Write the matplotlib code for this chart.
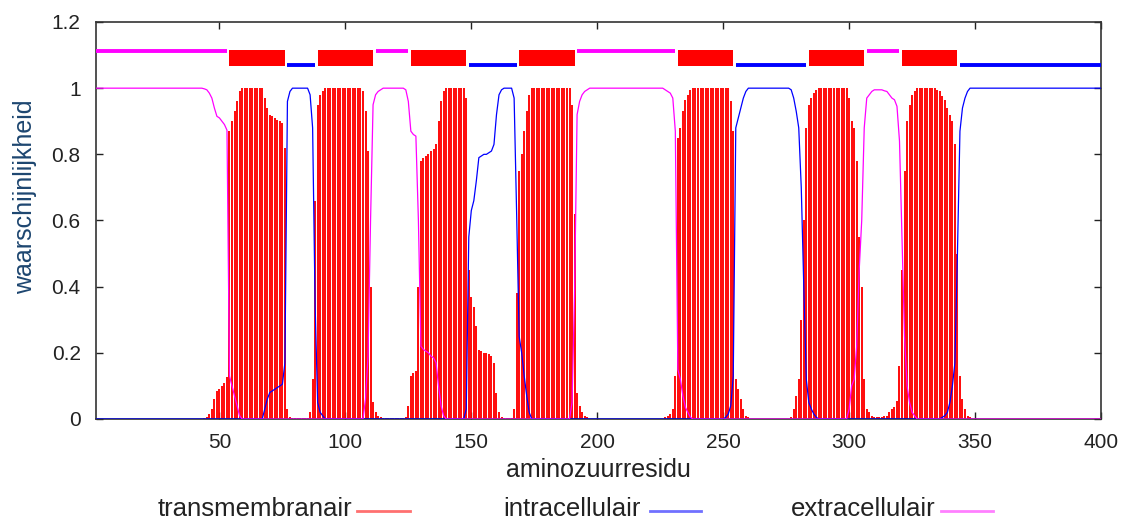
import matplotlib
matplotlib.use("Agg")
import matplotlib.pyplot as plt
from matplotlib.lines import Line2D
import numpy as np

plt.rcParams['font.family'] = ['Liberation Sans', 'DejaVu Sans']

# --- data: posterior probabilities per residue (1..400) ---
residues = np.arange(1, 401)

p_tm = np.array(
    [0.0] * 43 +
    [0.002, 0.005, 0.015, 0.03, 0.06, 0.085, 0.09, 0.10, 0.11, 0.127] +        # 44-53
    [0.87, 0.90, 0.93, 0.96, 0.99] + [1.0] * 9 +                                # 54-67
    [0.97, 0.94, 0.92, 0.915, 0.91, 0.905, 0.90, 0.895, 0.82] +                 # 68-76
    [0.03, 0.005] + [0.003] * 7 + [0.02, 0.12, 0.66, 0.95, 0.98, 0.99] +        # 77-91
    [1.0] * 15 +                                                                # 92-106
    [0.99, 0.93, 0.81, 0.40, 0.05, 0.02, 0.01, 0.005] + [0.002] * 9 +           # 107-123
    [0.005, 0.04, 0.13, 0.14, 0.145, 0.40, 0.78, 0.79, 0.795, 0.80, 0.81,
     0.815, 0.83, 0.90, 0.96, 0.99] +                                           # 124-139
    [1.0] * 8 + [0.97] +                                                        # 140-148
    [0.45, 0.37, 0.34, 0.28, 0.21, 0.205, 0.20, 0.20, 0.195, 0.19, 0.17,
     0.08, 0.02, 0.005] + [0.002] * 4 +                                         # 149-166
    [0.03, 0.38, 0.75, 0.80, 0.87, 0.93, 0.98] + [1.0] * 16 +                   # 167-189
    [0.95, 0.62, 0.08, 0.04, 0.02, 0.01, 0.005] + [0.0] * 30 +                  # 190-226
    [0.005, 0.01, 0.015, 0.03, 0.13, 0.85, 0.88, 0.93, 0.965, 0.98, 0.995] +    # 227-237
    [1.0] * 15 +                                                                # 238-252
    [0.96, 0.87, 0.12, 0.09, 0.06, 0.03, 0.01, 0.005] + [0.0] * 16 +            # 253-276
    [0.005, 0.03, 0.07, 0.12, 0.30, 0.60, 0.88, 0.95, 0.97, 0.985, 0.995] +     # 277-287
    [1.0] * 12 +                                                                # 288-299
    [0.97, 0.90, 0.88, 0.78, 0.55, 0.40, 0.12, 0.03, 0.02, 0.01] + [0.005] * 4 +  # 300-313
    [0.008, 0.01, 0.02, 0.03, 0.035, 0.055, 0.16, 0.45, 0.75, 0.90, 0.95,
     0.98, 0.99] + [1.0] * 8 +                                                  # 314-334
    [0.995, 0.99, 0.975, 0.965, 0.94, 0.92, 0.90, 0.83, 0.50, 0.13, 0.06,
     0.03, 0.01, 0.005] + [0.0] * 52                                            # 335-400
)

p_inside = np.array(
    [0.0] * 67 +
    [0.03, 0.06, 0.08, 0.085, 0.09, 0.095, 0.10, 0.105, 0.17, 0.96, 0.99] +     # 68-78
    [1.0] * 7 + [0.98, 0.88, 0.34, 0.05, 0.02, 0.01] +                          # 79-91
    [0.0] * 56 +                                                                # 92-147
    [0.03, 0.55, 0.63, 0.66, 0.72, 0.79, 0.795, 0.80, 0.80, 0.805, 0.81,
     0.83, 0.92, 0.98, 0.995] + [1.0] * 4 +                                     # 148-166
    [0.97, 0.62, 0.25, 0.20, 0.13, 0.07, 0.02] + [0.0] * 77 +                   # 167-250
    [0.005, 0.015, 0.04, 0.13, 0.88, 0.91, 0.94, 0.97, 0.99] + [1.0] * 17 +     # 251-276
    [0.995, 0.97, 0.93, 0.88, 0.70, 0.40, 0.12, 0.05, 0.03, 0.015, 0.005] +     # 277-287
    [0.0] * 49 +                                                                # 288-336
    [0.005, 0.01, 0.02, 0.05, 0.10, 0.17, 0.50, 0.87, 0.94, 0.97, 0.99] +       # 337-347
    [1.0] * 53                                                                  # 348-400
)

p_outside = np.array(
    [1.0] * 43 +
    [0.998, 0.995, 0.985, 0.97, 0.94, 0.915, 0.91, 0.90, 0.89, 0.873] +         # 44-53
    [0.13, 0.10, 0.07, 0.04, 0.01] + [0.0] * 49 +                               # 54-107
    [0.06, 0.19, 0.60, 0.95, 0.98, 0.99, 0.995] + [1.0] * 9 +                   # 108-123
    [0.995, 0.96, 0.87, 0.86, 0.855, 0.60, 0.22, 0.21, 0.205, 0.20, 0.19,
     0.185, 0.17, 0.10, 0.04, 0.01] + [0.0] * 50 +                              # 124-189
    [0.05, 0.38, 0.92, 0.96, 0.98, 0.99, 0.995] + [1.0] * 30 +                  # 190-226
    [0.995, 0.99, 0.985, 0.97, 0.87, 0.15, 0.12, 0.07, 0.035, 0.02, 0.005] +    # 227-237
    [0.0] * 62 +                                                                # 238-299
    [0.03, 0.10, 0.12, 0.22, 0.45, 0.60, 0.88, 0.97, 0.98, 0.99] + [0.995] * 4 +  # 300-313
    [0.992, 0.99, 0.98, 0.97, 0.965, 0.945, 0.84, 0.55, 0.25, 0.10, 0.05,
     0.02, 0.01] + [0.0] * 74                                                   # 314-400
)

# predicted topology (start, end)
tm_segments = [(54, 76), (89, 111), (126, 148), (169, 191), (232, 254), (284, 306), (321, 343)]
inside_segments = [(77, 88), (149, 168), (255, 283), (344, 400)]
outside_segments = [(1, 53), (112, 125), (192, 231), (307, 320)]

x_ticks = [50, 100, 150, 200, 250, 300, 350, 400]
y_ticks = [0, 0.2, 0.4, 0.6, 0.8, 1.0, 1.2]
y_tick_labels = ['0', '0.2', '0.4', '0.6', '0.8', '1', '1.2']

W, H = 1126, 521
fig = plt.figure(figsize=(W / 100, H / 100), dpi=100)
ax = fig.add_axes([96 / W, 1 - 419 / H, (1101 - 96) / W, (419 - 22) / H])

# probabilities
ax.vlines(residues, 0, p_tm, colors='#ff0000', linewidth=1.35, zorder=2)
ax.plot(residues, p_inside, color='#0000ff', linewidth=0.9, zorder=3)
ax.plot(residues, p_outside, color='#ff00ff', linewidth=0.9, zorder=4)

# topology bar on top
ax.broken_barh([(s, e - s) for s, e in tm_segments], (1.067, 0.048),
               facecolors='#ff0000', edgecolor='none', zorder=3)
for s, e in inside_segments:
    ax.hlines(1.070, s, e, colors='#0000ff', linewidth=2.8, zorder=3)
for s, e in outside_segments:
    ax.hlines(1.113, s, e, colors='#ff00ff', linewidth=2.8, zorder=3)

ax.set_xlim(1, 400)
ax.set_ylim(0, 1.2)
ax.set_xticks(x_ticks)
ax.set_yticks(y_ticks)
ax.set_yticklabels(y_tick_labels)
ax.tick_params(direction='in', top=True, right=True, length=5, width=1,
               labelsize=15, colors='#222222')
ax.tick_params(axis='y', pad=11)
ax.tick_params(axis='x', pad=10)
for sp in ax.spines.values():
    sp.set_color('#333333')
    sp.set_linewidth(1.2)

fig.text(598 / W, 1 - 470 / H, 'aminozuurresidu', ha='center', va='center',
         fontsize=18, color='#222222')
fig.text(25 / W, 1 - 197 / H, 'waarschijnlijkheid', ha='center', va='center',
         rotation=90, fontsize=18, color='#1d4670')

# legend along the bottom
legend = [('transmembranair', 352, 357, 410, '#ff7070'),
          ('intracellulair', 641, 650, 701, '#7070ff'),
          ('extracellulair', 936, 941, 993, '#ff80ff')]
for label, tx, x0, x1, col in legend:
    fig.text(tx / W, 1 - 509 / H, label, ha='right', va='center',
             fontsize=18.5, color='#222222')
    fig.add_artist(Line2D([x0 / W, x1 / W], [1 - 511 / H] * 2, color=col, linewidth=2))

fig.savefig('out.png', dpi=100)
